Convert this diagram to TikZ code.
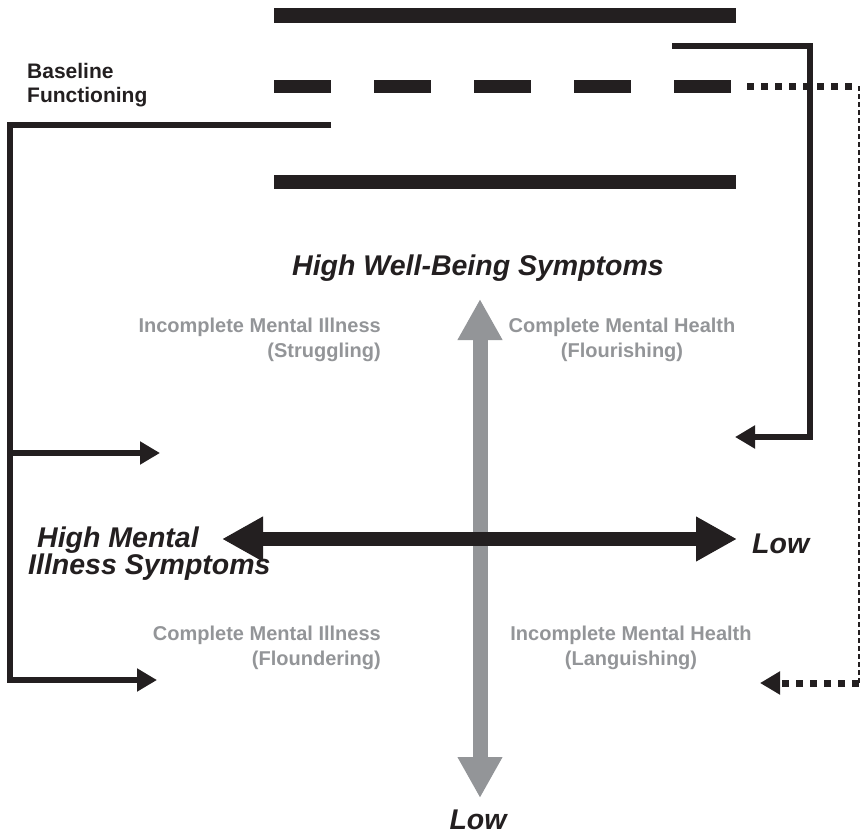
\documentclass[tikz,border=0pt]{standalone}
\usepackage{fontspec}
\setmainfont{Liberation Sans}
\usetikzlibrary{arrows.meta, positioning}
\definecolor{inkblack}{RGB}{35,31,32}
\definecolor{midgray}{RGB}{147,149,152}

\begin{document}
\begin{tikzpicture}[x=1pt, y=-1pt,
    axislabel/.style={font=\bfseries\itshape\fontsize{28.5}{27}\selectfont, text=inkblack, inner sep=0pt},
    quadlabel/.style={font=\bfseries\fontsize{20}{25}\selectfont, text=midgray, inner sep=0pt},
    band/.style={line width=14.5pt, draw=inkblack},
    route/.style={line width=6pt, draw=inkblack, miter limit=10},
    routearrow/.style={route, -{Triangle[length=20pt, width=22pt]}},
    dotroute/.style={line width=7pt, draw=inkblack, dash pattern=on 7pt off 7pt},
    thinroute/.style={line width=2.2pt, draw=inkblack, dash pattern=on 5pt off 3pt},
    axisarrow/.style={line width=14pt, {Triangle[length=41pt, width=42pt]}-{Triangle[length=41pt, width=42pt]}}
]
\useasboundingbox (0,0) rectangle (863,835);

% three functioning levels
\coordinate (topL) at (274,15.5);
\coordinate (topR) at (736,15.5);
\coordinate (midL) at (274,86);
\coordinate (midR) at (731,86);
\coordinate (lowL) at (274,182);
\coordinate (lowR) at (736,182);
\draw[band] (topL) -- (topR);
\draw[band, line width=13pt, dash pattern=on 57pt off 43pt] (midL) -- (midR);
\draw[band] (lowL) -- (lowR);

% the two axes
\coordinate (wbTop) at (480,299);
\coordinate (wbBot) at (480,798);
\coordinate (miL) at (222,539);
\coordinate (miR) at (737,539);
\draw[axisarrow, midgray, line width=15pt] (wbBot) -- (wbTop);
\draw[axisarrow, inkblack] (miL) -- (miR);

\node[axislabel, anchor=base] (wbhigh) at (478,275) {High Well-Being Symptoms};
\node[axislabel, anchor=base] (wblow) at (478,829) {Low};
\node[axislabel, anchor=base west] (milow) at (752,553) {Low};
\node[axislabel, anchor=north west, align=left] (mihigh) at (28,527) {\hspace*{9pt}High Mental\\Illness Symptoms};

\node[font=\bfseries\fontsize{21}{24}\selectfont, text=inkblack, inner sep=0pt,
      anchor=north west, align=left] (baseline) at (27,63) {Baseline\\Functioning};

% quadrants
\node[quadlabel, align=right, anchor=north east] (struggling) at (381,318) {Incomplete Mental Illness\\(Struggling)};
\node[quadlabel, align=center, anchor=north] (flourishing) at (622,318) {Complete Mental Health\\(Flourishing)};
\node[quadlabel, align=right, anchor=north east] (floundering) at (381,626) {Complete Mental Illness\\(Floundering)};
\node[quadlabel, align=center, anchor=north] (languishing) at (631,626) {Incomplete Mental Health\\(Languishing)};

% baseline connector
\coordinate (baseEnd) at (331,125);
\coordinate (spineTop) at (10,125);
\coordinate (spineMid) at (10,453);
\coordinate (spineBot) at (10,680);
\coordinate (toStruggle) at (160,453);
\coordinate (toFlounder) at (157,680);
\draw[routearrow] (baseEnd) -- (spineTop) -- (spineBot) -- (toFlounder);
\draw[routearrow] (spineMid) -- (toStruggle);

% upper connector
\coordinate (upStart) at (672,46);
\coordinate (upCorner) at (810,46);
\coordinate (upDown) at (810,437);
\coordinate (toFlourish) at (735,437);
\draw[routearrow] (upStart) -- (upCorner) -- (upDown) -- (toFlourish);

% middle connector
\coordinate (dotStart) at (747,86);
\coordinate (dotCorner) at (859,86);
\coordinate (dotDown) at (859,683);
\coordinate (toLanguish) at (760,683);
\draw[dotroute] (dotStart) -- (dotCorner);
\draw[thinroute] (dotCorner) -- (dotDown);
\draw[dotroute, -{Triangle[length=20pt, width=22pt]}] (dotDown) -- (toLanguish);
\end{tikzpicture}
\end{document}
